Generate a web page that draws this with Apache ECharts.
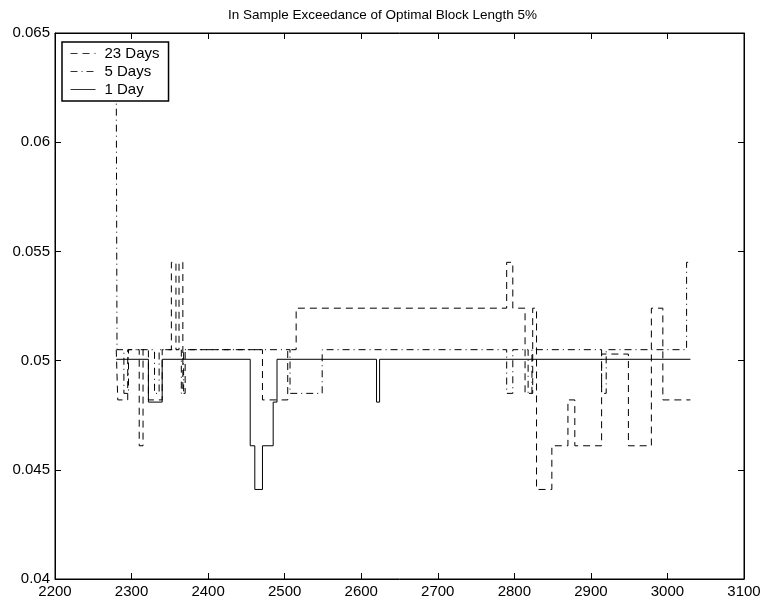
<!DOCTYPE html>
<html><head><meta charset="utf-8">
<script src="https://cdn.jsdelivr.net/npm/echarts@6/dist/echarts.min.js"></script>
<style>html,body{margin:0;padding:0;background:#fff}#c{width:765px;height:604px}</style>
</head><body><div id="c"></div>
<script>
const titleText = 'In Sample Exceedance of Optimal Block Length 5%';
const seriesNames = ['23 Days', '5 Days', '1 Day'];
const xTicks = [2200, 2300, 2400, 2500, 2600, 2700, 2800, 2900, 3000, 3100];
const yTicks = [0.04, 0.045, 0.05, 0.055, 0.06, 0.065];
// step data: [x, value] = value holds from x until next x
const days23 = [
  [2280, 0.0505], [2282, 0.0482], [2295, 0.0505], [2310, 0.0461], [2315, 0.0505],
  [2322, 0.0482], [2340, 0.0505], [2352, 0.0545], [2358, 0.0505], [2362, 0.0545],
  [2367, 0.0485], [2370, 0.0505], [2471, 0.0482], [2504, 0.0505], [2515, 0.0524],
  [2790, 0.0545], [2798, 0.0524], [2814, 0.0485], [2824, 0.0524], [2829, 0.0441],
  [2849, 0.0461], [2870, 0.0482], [2879, 0.0461], [2914, 0.0503], [2949, 0.0461],
  [2979, 0.0524], [2994, 0.0482], [3020, 0.0482], [3030, 0.0482]
];
const days5 = [
  [2280, 0.0630], [2281, 0.0505], [2290, 0.0485], [2296, 0.0505], [2330, 0.0485],
  [2336, 0.0505], [2365, 0.0485], [2368, 0.0505], [2507, 0.0485], [2549, 0.0505],
  [2790, 0.0485], [2798, 0.0505], [2818, 0.0485], [2823, 0.0505], [2914, 0.0485],
  [2920, 0.0505], [3025, 0.0545], [3030, 0.0545]
];
const day1 = [
  [2280, 0.05006], [2322, 0.0481], [2340, 0.05006], [2455, 0.0461], [2461, 0.0441],
  [2471, 0.0461], [2485, 0.0481], [2490, 0.05006], [2620, 0.0481], [2624, 0.05006],
  [3030, 0.05006]
];
const dashStyles = [[7, 5], [7, 4, 1, 4], 'solid'];
const allData = [days23, days5, day1];

const chart = echarts.init(document.getElementById('c'), null, {renderer: 'canvas'});
const font = 'Liberation Sans, Arial, sans-serif';
const grid = {left: 55, right: 21, top: 33, bottom: 25, show: true, borderColor: '#000', borderWidth: 1, backgroundColor: '#fff'};
const mkX = (pos, show) => ({
  type: 'value', min: xTicks[0], max: xTicks[xTicks.length - 1], interval: 100, position: pos,
  axisLine: {show: true, onZero: false, lineStyle: {color: '#000', width: 1}},
  axisTick: {show: true, inside: true, length: 6, lineStyle: {color: '#000'}},
  axisLabel: {show: show, color: '#000', fontFamily: font, fontSize: 15, margin: 5,
    formatter: v => String(v)},
  splitLine: {show: false}
});
const mkY = (pos, show) => ({
  type: 'value', min: yTicks[0], max: yTicks[yTicks.length - 1], interval: 0.005, position: pos,
  axisLine: {show: true, onZero: false, lineStyle: {color: '#000', width: 1}},
  axisTick: {show: true, inside: true, length: 6, lineStyle: {color: '#000'}},
  axisLabel: {show: show, color: '#000', fontFamily: font, fontSize: 15, margin: 5,
    formatter: v => String(+v.toFixed(3))},
  splitLine: {show: false}
});
chart.setOption({
  animation: false,
  backgroundColor: '#fff',
  title: {text: titleText, left: 'center', top: 3,
    textStyle: {fontFamily: font, fontSize: 13.5, fontWeight: 'normal', color: '#000'}},
  grid: grid,
  xAxis: [mkX('bottom', true), mkX('top', false)],
  yAxis: [mkY('left', true), mkY('right', false)],
  legend: {
    orient: 'vertical', left: 62, top: 42, itemWidth: 25, itemHeight: 14, itemGap: 3,
    padding: [4, 9, 4, 8], backgroundColor: '#fff', borderColor: '#000', borderWidth: 1.5,
    textStyle: {fontFamily: font, fontSize: 15, color: '#000', padding: [0, 0, 0, 4]},
    itemStyle: {opacity: 0, color: 'transparent', borderWidth: 0},
    lineStyle: {width: 1, color: '#333'},
    data: seriesNames
  },
  series: allData.map((d, i) => ({
    name: seriesNames[i], type: 'line', step: 'end', data: d,
    showSymbol: false, symbol: 'none', xAxisIndex: 0, yAxisIndex: 0,
    lineStyle: {color: '#000', width: 1, type: dashStyles[i]},
    itemStyle: {color: '#000'}
  }))
});
</script></body></html>
